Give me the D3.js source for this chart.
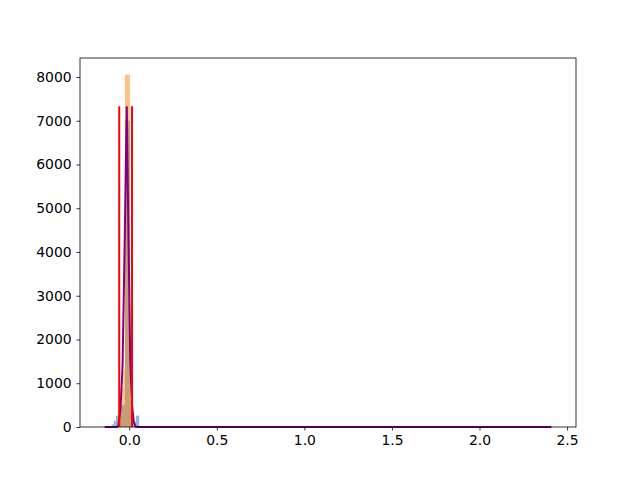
<!DOCTYPE html>
<html>
<head>
<meta charset="utf-8">
<script src="https://cdn.jsdelivr.net/npm/d3@7"></script>
<style>
  body { margin: 0; background: #fff; }
  text { font-family: "DejaVu Sans", sans-serif; }
</style>
</head>
<body>
<div class="chart"></div>
<script>
var w = 640;
var h = 480;
var margin = {left: 80, right: 64, top: 58, bottom: 53};

// blue histogram (bin edges + counts)
var blueEdges = [-0.100, -0.088, -0.076, -0.064, -0.053, -0.0245, 0.004, 0.017, 0.038, 0.057];
var blueCounts = [60, 140, 260, 390, 500, 7000, 600, 120, 260];

// orange histogram
var orangeEdges = [-0.053, -0.0417, -0.0331, -0.0245, 0.004, 0.0097, 0.017];
var orangeCounts = [420, 900, 1300, 8050, 1200, 520];

// purple density curve
var kdeX = [-0.14, -0.07, -0.062, -0.05, -0.038, -0.026, -0.014, -0.004, 0.006, 0.016, 0.026, 0.036, 0.05, 2.41];
var kdeY = [0, 0, 40, 400, 1400, 4200, 7330, 4300, 1500, 500, 120, 10, 0, 0];

// red vertical markers
var redX = [-0.057, 0.016];
var redTop = 7330;

var xTicks = [0.0, 0.5, 1.0, 1.5, 2.0, 2.5];
var yTicks = [0, 1000, 2000, 3000, 4000, 5000, 6000, 7000, 8000];

var x = d3.scaleLinear()
  .domain([-0.281, 2.551])
  .range([margin.left, w - margin.right]);
var y = d3.scaleLinear()
  .domain([0, 8434])
  .range([h - margin.bottom, margin.top]);

var svg = d3.select(".chart")
  .append("svg")
  .attr("width", w)
  .attr("height", h);

function bars(edges, counts, color) {
  svg.append("g")
    .selectAll("rect")
    .data(counts)
    .enter()
    .append("rect")
    .attr("x", function(d, i) { return x(edges[i]); })
    .attr("width", function(d, i) { return x(edges[i + 1]) - x(edges[i]); })
    .attr("y", function(d) { return y(d); })
    .attr("height", function(d) { return y(0) - y(d); })
    .attr("fill", color)
    .attr("fill-opacity", 0.5);
}

bars(blueEdges, blueCounts, "#1f77b4");
bars(orangeEdges, orangeCounts, "#ff7f0e");

var line = d3.line()
  .x(function(d) { return x(d[0]); })
  .y(function(d) { return y(d[1]); });

svg.append("path")
  .datum(kdeX.map(function(v, i) { return [v, kdeY[i]]; }))
  .attr("d", line)
  .attr("fill", "none")
  .attr("stroke", "purple")
  .attr("stroke-width", 2);

svg.selectAll(".red-line")
  .data(redX)
  .enter()
  .append("line")
  .attr("class", "red-line")
  .attr("x1", function(d) { return x(d); })
  .attr("x2", function(d) { return x(d); })
  .attr("y1", y(0))
  .attr("y2", y(redTop))
  .attr("stroke", "red")
  .attr("stroke-width", 2);

// axes
var xAxis = d3.axisBottom(x)
  .tickValues(xTicks)
  .tickFormat(d3.format(".1f"))
  .tickSizeOuter(0)
  .tickSize(3.5)
  .tickPadding(4.9);
var yAxis = d3.axisLeft(y)
  .tickValues(yTicks)
  .tickFormat(d3.format("d"))
  .tickSizeOuter(0)
  .tickSize(3.5)
  .tickPadding(4.9);

var gx = svg.append("g")
  .attr("transform", "translate(0," + (h - margin.bottom) + ")")
  .call(xAxis);
var gy = svg.append("g")
  .attr("transform", "translate(" + margin.left + ",0)")
  .call(yAxis);

[gx, gy].forEach(function(g) {
  g.select(".domain").remove();
  g.selectAll("line").attr("stroke", "#000").attr("stroke-width", 0.8);
  g.selectAll("text")
    .attr("fill", "#000")
    .style("font-size", "13.9px")
    .style("font-family", "'DejaVu Sans', sans-serif");
});

// frame
svg.append("rect")
  .attr("x", margin.left)
  .attr("y", margin.top)
  .attr("width", w - margin.left - margin.right)
  .attr("height", h - margin.top - margin.bottom)
  .attr("fill", "none")
  .attr("stroke", "#000")
  .attr("stroke-width", 0.8);
</script>
</body>
</html>
